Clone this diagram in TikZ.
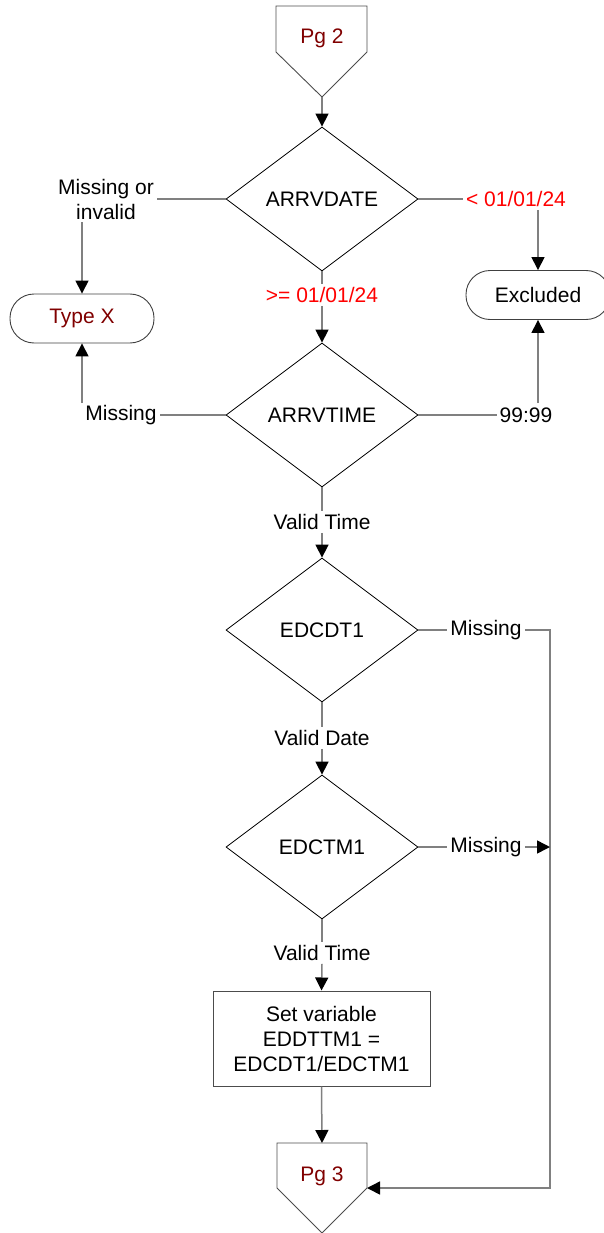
\documentclass[tikz,border=0pt]{standalone}
\usepackage{fontspec}
\setmainfont{Liberation Sans}
\usetikzlibrary{shapes.geometric,arrows.meta}
\definecolor{dred}{RGB}{128,0,0}
\definecolor{lgray}{RGB}{128,128,128}
\begin{document}
\begin{tikzpicture}[x=1pt,y=-1pt,
  every node/.style={font=\fontsize{21}{25}\selectfont},
  dec/.style={diamond, draw=black, line width=0.8pt, minimum width=192pt, minimum height=144pt, inner sep=0pt},
  term/.style={rectangle, rounded corners=24pt, draw=black!75, line width=0.9pt, minimum width=144pt, minimum height=49pt},
  procbox/.style={rectangle, draw=black!70, line width=1pt, minimum width=217pt, minimum height=95pt, align=center},
  lbl/.style={inner sep=3pt, align=center},
  offpage/.style={draw=black!70, line width=0.9pt},
  conn/.style={draw=lgray, line width=1.5pt},
  arr/.style={conn, -{Triangle[length=13pt,width=13pt,color=black]}}
]
\useasboundingbox (0,0) rectangle (604,1233);
% off-page connectors
\draw[offpage] (276,6) -- (367,6) -- (367,52) -- (322,97) -- (276,52) -- cycle;
\node[text=dred] (pg2) at (322,38) {Pg 2};
\coordinate (pg2tip) at (322,97);
\draw[offpage] (277,1143) -- (367,1143) -- (367,1188) -- (322,1233) -- (277,1188) -- cycle;
\node[text=dred] (pg3) at (322,1176) {Pg 3};
\coordinate (pg3top) at (322,1143);
\coordinate (pg3r) at (367,1188);
% decisions
\node[dec] (d1) at (322,199) {ARRVDATE};
\node[dec] (d2) at (322,415) {ARRVTIME};
\node[dec] (d3) at (322,630) {EDCDT1};
\node[dec] (d4) at (322,847) {EDCTM1};
% terminals
\node[term, text=dred] (tx) at (82,318.5) {Type X};
\node[term] (ex) at (538,295) {Excluded};
% process
\node[procbox] (bx) at (321.5,1038.5) {Set variable\\EDDTTM1 =\\EDCDT1/EDCTM1};
% labels
\node[lbl] (l1) at (106,199) {Missing or\\invalid};
\node[lbl, text=red] (l2) at (516,199) {< 01/01/24};
\node[lbl, text=red] (l3) at (322,295) {>= 01/01/24};
\node[lbl] (l4) at (121,415) {Missing};
\node[lbl] (l5) at (526,415) {99:99};
\node[lbl] (l6) at (322,522) {Valid Time};
\node[lbl] (l7) at (486,630) {Missing};
\node[lbl] (l8) at (322,738) {Valid Date};
\node[lbl] (l9) at (486,847) {Missing};
\node[lbl] (l10) at (322,953) {Valid Time};
\coordinate (c1) at (82,403);
\coordinate (c2) at (538,403);
\coordinate (r1) at (550,630);
\coordinate (r2) at (550,1188);
% connectors
\draw[arr] (pg2tip) -- (d1.north);
\draw[conn] (d1.west) -- (l1.east);
\draw[arr] (l1.south -| tx.north) -- (tx.north);
\draw[conn] (d1.east) -- (l2.west);
\draw[arr] (l2.south -| ex.north) -- (ex.north);
\draw[conn] (d1.south) -- (l3.north);
\draw[arr] (l3.south) -- (d2.north);
\draw[conn] (d2.west) -- (l4.east);
\draw[arr] (c1) -- (tx.south);
\draw[conn] (d2.east) -- (l5.west);
\draw[arr] (c2) -- (ex.south);
\draw[conn] (d2.south) -- (l6.north);
\draw[arr] (l6.south) -- (d3.north);
\draw[conn] (d3.east) -- (l7.west);
\draw[arr] (l7.east) -- (r1) -- (r2) -- (pg3r);
\draw[conn] (d3.south) -- (l8.north);
\draw[arr] (l8.south) -- (d4.north);
\draw[conn] (d4.east) -- (l9.west);
\draw[arr] (l9.east) -- (l9.east -| r1);
\draw[conn] (d4.south) -- (l10.north);
\draw[arr] (l10.south) -- (bx.north);
\draw[arr] (bx.south) -- (pg3top);
\end{tikzpicture}
\end{document}
